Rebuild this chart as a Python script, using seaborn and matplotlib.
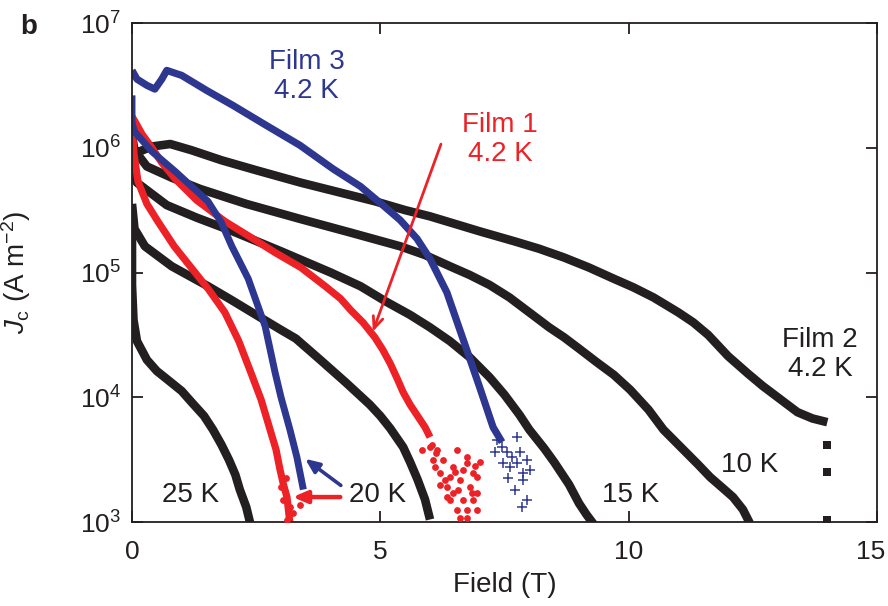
import numpy as np
import pandas as pd
import seaborn as sns
import matplotlib
matplotlib.use("Agg")
import matplotlib.pyplot as plt
from matplotlib.ticker import FixedLocator
from matplotlib.transforms import ScaledTranslation

# ---------------- data (field in T, log10 of Jc in A m^-2) ----------------
f2_42_field = [0, 0.15, 0.4, 0.77, 1.2, 1.8, 2.5, 3.4, 4.2, 4.9, 5.5, 6.0, 6.5, 7.0, 7.7, 8.2, 8.7, 9.2, 9.7, 10.1, 10.5, 11.0, 11.3, 11.6, 12.0, 12.4, 12.7, 13.0, 13.4, 13.7, 14.0]
f2_42_logjc = [5.87, 5.97, 6.01, 6.03, 5.98, 5.90, 5.82, 5.72, 5.64, 5.57, 5.50, 5.45, 5.39, 5.33, 5.25, 5.19, 5.12, 5.04, 4.95, 4.88, 4.80, 4.68, 4.60, 4.50, 4.33, 4.19, 4.09, 4.00, 3.88, 3.83, 3.80]
f2_42_tail_field = [14.0, 14.0, 14.0]
f2_42_tail_logjc = [3.62, 3.40, 3.02]

f2_10_field = [0, 0.05, 0.3, 0.8, 1.37, 2.3, 3.38, 4.4, 5.4, 5.9, 6.4, 6.8, 7.2, 7.6, 8.0, 8.4, 8.7, 9.0, 9.36, 9.7, 10.03, 10.4, 10.7, 11.1, 11.4, 11.64, 11.9, 12.1, 12.3, 12.44]
f2_10_logjc = [6.10, 5.98, 5.85, 5.76, 5.67, 5.55, 5.43, 5.32, 5.21, 5.14, 5.05, 4.98, 4.90, 4.80, 4.68, 4.56, 4.48, 4.39, 4.28, 4.18, 4.06, 3.90, 3.74, 3.58, 3.46, 3.36, 3.27, 3.20, 3.10, 2.99]

f2_15_field = [0, 0.1, 0.7, 1.3, 2.03, 3.0, 4.0, 4.6, 5.1, 5.6, 6.0, 6.4, 6.8, 7.2, 7.5, 7.8, 8.0, 8.3, 8.5, 8.8, 9.0, 9.15, 9.3]
f2_15_logjc = [5.85, 5.72, 5.54, 5.44, 5.33, 5.17, 5.00, 4.89, 4.77, 4.66, 4.56, 4.45, 4.32, 4.16, 4.02, 3.86, 3.74, 3.59, 3.48, 3.30, 3.15, 3.06, 2.98]

f2_20_field = [0, 0.05, 0.26, 0.8, 1.53, 2.0, 2.54, 3.0, 3.3, 3.79, 4.3, 4.79, 5.0, 5.2, 5.46, 5.6, 5.75, 5.9, 6.0]
f2_20_logjc = [5.55, 5.35, 5.21, 5.05, 4.89, 4.78, 4.65, 4.54, 4.47, 4.30, 4.12, 3.94, 3.85, 3.75, 3.60, 3.48, 3.34, 3.18, 3.02]

f2_25_field = [0, 0, 0.03, 0.1, 0.3, 0.5, 0.72, 1.0, 1.2, 1.45, 1.63, 1.8, 1.95, 2.08, 2.17, 2.3, 2.38]
f2_25_logjc = [5.45, 4.90, 4.62, 4.45, 4.30, 4.21, 4.14, 4.05, 3.96, 3.85, 3.74, 3.62, 3.50, 3.38, 3.26, 3.12, 2.99]

f1_42_field = [0.0, 0.06, 0.2, 0.4, 0.6, 0.87, 1.3, 1.87, 2.4, 2.88, 3.4, 3.89, 4.2, 4.4, 4.65, 4.89, 5.05, 5.2, 5.35, 5.46, 5.6, 5.75, 5.9, 6.0]
f1_42_logjc = [6.25, 6.21, 6.11, 6.00, 5.88, 5.75, 5.58, 5.41, 5.28, 5.16, 5.04, 4.89, 4.79, 4.70, 4.60, 4.48, 4.38, 4.27, 4.14, 4.04, 3.94, 3.85, 3.76, 3.68]
f1_42_scatter_field = [5.84, 6.0, 6.06, 6.1, 6.12, 6.2, 6.26, 6.3, 6.34, 6.34, 6.4, 6.4, 6.46, 6.46, 6.54, 6.54,
                       6.56, 6.6, 6.6, 6.66, 6.66, 6.74, 6.74, 6.74, 6.74, 6.8, 6.85, 6.87, 6.87, 6.94, 6.94,
                       6.94, 7.0, 6.2, 6.5, 6.9, 6.05, 6.15]
f1_42_scatter_logjc = [3.58, 3.60, 3.50, 3.44, 3.55, 3.39, 3.50, 3.34, 3.28, 3.20, 3.36, 3.18, 3.23, 3.44, 3.58, 3.10,
                       3.26, 3.34, 3.03, 3.18, 3.42, 3.52, 3.10, 3.03, 3.47, 3.28, 3.23, 3.18, 3.39, 3.36, 3.23,
                       3.10, 3.48, 3.30, 3.40, 3.45, 3.62, 3.58]

f1_20_field = [0.0, 0.04, 0.12, 0.3, 0.52, 0.85, 1.21, 1.55, 1.87, 2.15, 2.42, 2.6, 2.78, 2.9, 2.98, 3.05, 3.12, 3.18]
f1_20_logjc = [6.20, 5.95, 5.73, 5.55, 5.41, 5.21, 5.03, 4.86, 4.68, 4.45, 4.17, 3.98, 3.74, 3.58, 3.42, 3.30, 3.20, 2.99]
f1_20_scatter_field = [3.38, 3.24, 3.12, 3.18, 3.04, 3.0, 3.1]
f1_20_scatter_logjc = [3.14, 3.07, 3.02, 3.12, 3.18, 3.28, 3.35]

f3_42_field = [0, 0.1, 0.3, 0.46, 0.6, 0.7, 1.0, 1.5, 2.03, 2.7, 3.38, 4.05, 4.6, 5.05, 5.4, 5.74, 6.0, 6.34, 6.74, 7.0, 7.27, 7.45]
f3_42_logjc = [6.62, 6.55, 6.50, 6.47, 6.55, 6.62, 6.58, 6.46, 6.34, 6.18, 6.02, 5.83, 5.69, 5.54, 5.42, 5.27, 5.11, 4.84, 4.38, 4.08, 3.76, 3.64]
f3_42_scatter_field = [7.35, 7.75, 7.55, 7.81, 7.95, 7.47, 7.87, 7.61, 7.75, 7.57, 7.87, 7.71, 7.95, 7.85, 7.31, 7.45, 8.01, 7.66]
f3_42_scatter_logjc = [3.66, 3.68, 3.56, 3.56, 3.50, 3.47, 3.39, 3.44, 3.47, 3.35, 3.34, 3.26, 3.18, 3.12, 3.56, 3.60, 3.42, 3.52]

f3_20_field = [0.0, 0.0, 0.05, 0.4, 0.87, 1.2, 1.53, 1.8, 2.01, 2.34, 2.68, 2.88, 3.0, 3.18, 3.32, 3.45]
f3_20_logjc = [6.42, 6.20, 6.13, 5.97, 5.81, 5.69, 5.57, 5.40, 5.21, 4.95, 4.57, 4.20, 4.00, 3.74, 3.52, 3.26]

y_ticks = [1e3, 1e4, 1e5, 1e6, 1e7]
x_ticks = [0, 5, 10, 15]

BLACK = "#231f20"
RED = "#ec2227"
BLUE = "#2e3790"

# ---------------- style ----------------
sns.set_theme(style="ticks")
plt.rcParams["font.family"] = ["Liberation Sans", "DejaVu Sans"]
plt.rcParams["mathtext.fontset"] = "custom"
plt.rcParams["mathtext.rm"] = "Liberation Sans"
plt.rcParams["mathtext.it"] = "Liberation Sans:italic"
plt.rcParams["mathtext.bf"] = "Liberation Sans:bold"

fig = plt.figure(figsize=(8.88, 6.06), dpi=100)
ax = fig.add_axes([132 / 888, 1 - 522 / 606, (877 - 132) / 888, (522 - 23) / 606])


def jc(v):
    return 10 ** np.asarray(v, dtype=float)


def line(xs, ys, color, lw):
    df = pd.DataFrame({"Field": xs, "Jc": jc(ys)})
    sns.lineplot(data=df, x="Field", y="Jc", ax=ax, sort=False, estimator=None,
                 color=color, lw=lw, solid_capstyle="butt", solid_joinstyle="round")


def scat(xs, ys, color, marker, s, lw=0):
    df = pd.DataFrame({"Field": xs, "Jc": jc(ys)})
    sns.scatterplot(data=df, x="Field", y="Jc", ax=ax, color=color, marker=marker,
                    s=s, linewidth=lw, edgecolor=color if marker != "+" else None, zorder=3)


# black: Film 2
for fx, fy in [(f2_42_field, f2_42_logjc), (f2_10_field, f2_10_logjc), (f2_15_field, f2_15_logjc),
               (f2_20_field, f2_20_logjc), (f2_25_field, f2_25_logjc)]:
    line(fx, fy, BLACK, 6.2)
scat(f2_42_tail_field, f2_42_tail_logjc, BLACK, "s", 34)

# red: Film 1
line(f1_42_field, f1_42_logjc, RED, 5.2)
line(f1_20_field, f1_20_logjc, RED, 5.2)
scat(f1_42_scatter_field, f1_42_scatter_logjc, RED, "o", 24)
scat(f1_20_scatter_field, f1_20_scatter_logjc, RED, "o", 24)

# blue: Film 3
line(f3_42_field, f3_42_logjc, BLUE, 5.2)
line(f3_20_field, f3_20_logjc, BLUE, 5.0)
scat(f3_42_scatter_field, f3_42_scatter_logjc, BLUE, "+", 50, lw=1.1)

ax.set_yscale("log")
ax.set_xlim(0, 15)
ax.set_ylim(1e3, 1e7)
ax.xaxis.set_major_locator(FixedLocator(x_ticks))
ax.yaxis.set_major_locator(FixedLocator(y_ticks))
ax.yaxis.set_minor_locator(FixedLocator([]))
ax.set_xticklabels([str(t) for t in x_ticks])
ax.set_yticklabels([r"$10^{%d}$" % int(np.log10(t)) for t in y_ticks])
ax.tick_params(axis="both", which="major", direction="in", length=8, width=1.3,
               top=True, right=True, labelsize=19, colors=BLACK)
ax.tick_params(axis="x", pad=13)
ax.tick_params(axis="y", pad=8)
for sp in ax.spines.values():
    sp.set_linewidth(1.3)
    sp.set_color(BLACK)
    sp.set_visible(True)

last = ax.get_xticklabels()[-1]
last.set_transform(last.get_transform() + ScaledTranslation(-6 / 100, 0, fig.dpi_scale_trans))

ax.set_xlabel("Field (T)", fontsize=20, color=BLACK)
ax.xaxis.set_label_coords(0.5, -0.10)
ax.set_ylabel(r"$J_{\mathrm{c}}$ (A m$^{-2}$)", fontsize=20, color=BLACK)
ax.yaxis.set_label_coords(-0.133, 0.5)

# annotations
fs = 20
ax.text(3.52, 10 ** 6.57, "Film 3\n4.2 K", color=BLUE, fontsize=fs, ha="center", va="center", linespacing=1.15)
ax.text(7.41, 10 ** 6.07, "Film 1\n4.2 K", color=RED, fontsize=fs, ha="center", va="center", linespacing=1.15)
ax.text(13.85, 10 ** 4.34, "Film 2\n4.2 K", color=BLACK, fontsize=fs, ha="center", va="center", linespacing=1.15)
ax.text(1.17, 10 ** 3.22, "25 K", color=BLACK, fontsize=fs, ha="center", va="center")
ax.text(4.95, 10 ** 3.22, "20 K", color=BLACK, fontsize=fs, ha="center", va="center")
ax.text(10.03, 10 ** 3.22, "15 K", color=BLACK, fontsize=fs, ha="center", va="center")
ax.text(12.44, 10 ** 3.46, "10 K", color=BLACK, fontsize=fs, ha="center", va="center")

ax.annotate("", xy=(4.83, 10 ** 4.505), xytext=(6.24, 10 ** 6.05),
            arrowprops=dict(arrowstyle="->,head_length=0.7,head_width=0.3", color=RED, lw=2.0))
ax.annotate("", xy=(3.44, 10 ** 3.52), xytext=(4.25, 10 ** 3.28),
            arrowprops=dict(arrowstyle="-|>,head_length=0.7,head_width=0.3", color=BLUE, lw=2.6))
ax.annotate("", xy=(3.18, 10 ** 3.20), xytext=(4.25, 10 ** 3.20),
            arrowprops=dict(arrowstyle="-|>,head_length=0.7,head_width=0.3", color=RED, lw=3.2))

fig.text(20 / 888, 1 - 27 / 606, "b", fontsize=20, fontweight="bold", color=BLACK, ha="left", va="center")

fig.savefig("out.png", dpi=100)
